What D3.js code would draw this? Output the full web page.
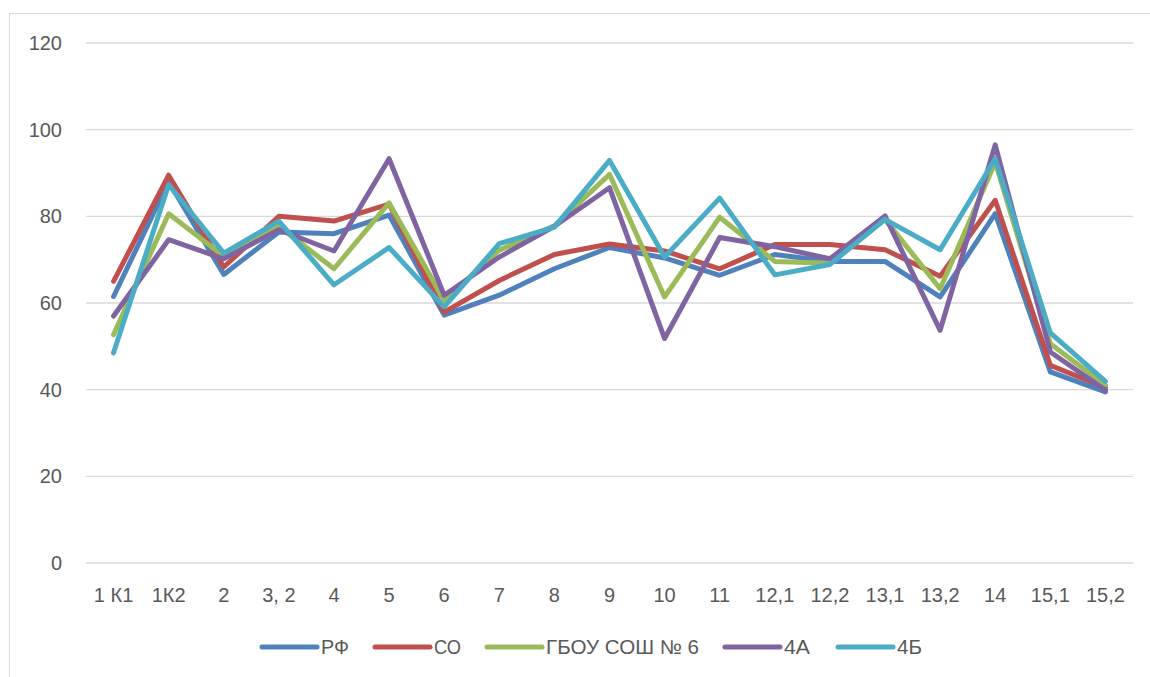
<!DOCTYPE html>
<html>
<head>
<meta charset="utf-8">
<script src="https://cdn.jsdelivr.net/npm/d3@7"></script>
<style>
  body { margin: 0; background: #fff; }
  text { font-family: "Liberation Sans", "DejaVu Sans", sans-serif; fill: #595959; }
</style>
</head>
<body>
<svg id="chart" width="1150" height="677"></svg>
<script>
const categories = ["1 К1", "1К2", "2", "3, 2", "4", "5", "6", "7", "8", "9", "10", "11",
  "12,1", "12,2", "13,1", "13,2", "14", "15,1", "15,2"];

const seriesNames = ["РФ", "СО", "ГБОУ СОШ № 6", "4А", "4Б"];
const seriesColors = ["#4F81BD", "#C0504D", "#9BBB59", "#8064A2", "#4BACC6"];

const rf = [61.5, 88.0, 66.6, 76.4, 76.0, 80.3, 57.2, 61.8, 67.9, 72.8, 70.4, 66.4,
  71.2, 69.6, 69.6, 61.4, 80.6, 44.1, 39.5];
const so = [65.0, 89.5, 68.3, 80.0, 78.9, 82.8, 57.9, 65.2, 71.2, 73.6, 72.0, 67.9,
  73.5, 73.5, 72.3, 66.2, 83.7, 45.6, 40.5];
const school = [52.7, 80.6, 70.8, 77.7, 67.9, 83.1, 60.6, 72.2, 77.8, 89.7, 61.4, 79.8,
  69.6, 69.2, 79.3, 63.3, 92.5, 50.6, 41.0];
const class4a = [57.0, 74.6, 70.2, 76.9, 72.0, 93.3, 61.8, 70.6, 77.7, 86.6, 51.8, 75.1,
  73.0, 70.2, 80.1, 53.7, 96.5, 48.7, 39.9];
const class4b = [48.5, 87.3, 71.5, 78.9, 64.2, 72.8, 59.1, 73.7, 77.5, 92.9, 70.6, 84.2,
  66.5, 68.9, 79.3, 72.3, 93.3, 53.1, 41.9];

const yTicks = [0, 20, 40, 60, 80, 100, 120];

const svg = d3.select("#chart");

// chart frame (cut off at the right and bottom in the picture)
svg.append("rect")
  .attr("x", 9.5).attr("y", 13.5)
  .attr("width", 1160).attr("height", 700)
  .attr("fill", "#fff")
  .attr("stroke", "#D9D9D9")
  .attr("stroke-width", 1);

const x = d3.scaleBand().domain(categories).range([86, 1133]);
const y = d3.scaleLinear().domain([0, 120]).range([563, 43]);

// gridlines
svg.append("g")
  .selectAll("line")
  .data(yTicks)
  .join("line")
  .attr("x1", 86).attr("x2", 1133)
  .attr("y1", (d) => y(d)).attr("y2", (d) => y(d))
  .attr("stroke", "#D9D9D9")
  .attr("stroke-width", 1.3);

// y tick labels
svg.append("g")
  .selectAll("text")
  .data(yTicks)
  .join("text")
  .attr("x", 62)
  .attr("y", (d) => y(d))
  .attr("text-anchor", "end")
  .attr("dominant-baseline", "central")
  .attr("font-size", 20)
  .text((d) => d);

// x tick labels
svg.append("g")
  .selectAll("text")
  .data(categories)
  .join("text")
  .attr("x", (d) => x(d) + x.bandwidth() / 2)
  .attr("y", 595)
  .attr("text-anchor", "middle")
  .attr("dominant-baseline", "central")
  .attr("font-size", 20)
  .text((d) => d);

const series = [rf, so, school, class4a, class4b].map((values, i) => ({
  name: seriesNames[i],
  color: seriesColors[i],
  values: values,
}));

const lineGen = d3.line()
  .x((d, i) => x(categories[i]) + x.bandwidth() / 2)
  .y((d) => y(d));

svg.append("g")
  .selectAll("path")
  .data(series)
  .join("path")
  .attr("d", (d) => lineGen(d.values))
  .attr("fill", "none")
  .attr("stroke", (d) => d.color)
  .attr("stroke-width", 5)
  .attr("stroke-linejoin", "round")
  .attr("stroke-linecap", "round");

// legend
const legendX = [262, 375, 487, 725, 838];
const legendTextW = [28, 27, 153, 26, 25];
const legend = svg.append("g")
  .selectAll("g")
  .data(series)
  .join("g")
  .attr("transform", (d, i) => `translate(${legendX[i]}, 647)`);

legend.append("line")
  .attr("x1", 0).attr("x2", 55)
  .attr("stroke", (d) => d.color)
  .attr("stroke-width", 5)
  .attr("stroke-linecap", "round");

legend.append("text")
  .attr("x", 59)
  .attr("dominant-baseline", "central")
  .attr("font-size", 20)
  .attr("textLength", (d, i) => legendTextW[i])
  .attr("lengthAdjust", "spacingAndGlyphs")
  .text((d) => d.name);
</script>
</body>
</html>
